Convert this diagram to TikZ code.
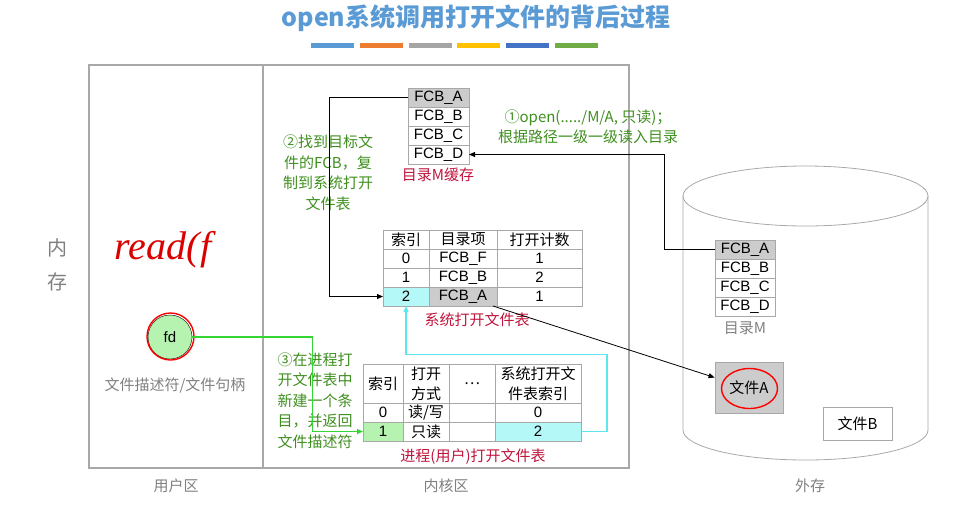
\documentclass[tikz,border=0pt]{standalone}
\usepackage{fontspec}
\setmainfont{Liberation Sans}
\newfontfamily\cjk{Noto Sans CJK SC}
\newfontfamily\hand{Liberation Serif}
\usetikzlibrary{positioning,arrows.meta}
\definecolor{titleblue}{HTML}{5B9BD5}
\definecolor{note}{HTML}{3F8F1F}
\definecolor{capred}{HTML}{C0143C}
\definecolor{framegray}{HTML}{A8A8A8}
\definecolor{cellgray}{HTML}{CCCCCC}
\definecolor{lcyan}{HTML}{B4F8F8}
\definecolor{lgreen}{HTML}{B6F2B0}
\definecolor{cyanline}{HTML}{5CE6EE}
\definecolor{greenline}{HTML}{33D633}
\definecolor{barA}{HTML}{5B9BD5}
\definecolor{barB}{HTML}{ED7D31}
\definecolor{barC}{HTML}{A5A5A5}
\definecolor{barD}{HTML}{FFC000}
\definecolor{barE}{HTML}{4472C4}
\definecolor{barF}{HTML}{70AD47}

\begin{document}
\begin{tikzpicture}[x=1pt, y=-1pt,
    cell/.style={draw=framegray, line width=0.8pt, outer sep=0pt, inner sep=0pt, minimum height=19pt, align=center, font=\fontsize{15}{20}\selectfont},
    note/.style={text=note, align=center, font=\cjk\fontsize{15}{20.5}\selectfont},
    caption/.style={text=capred, font=\cjk\fontsize{15}{18}\selectfont},
    zone/.style={text=gray, font=\cjk\fontsize{15}{18}\selectfont},
    link/.style={-{Triangle[length=6pt,width=5pt]}, line width=0.8pt}]
    \useasboundingbox (0,0) rectangle (957,504);

    % title and colour bars
    \node (title) [text=titleblue, font=\cjk\bfseries\fontsize{25}{28}\selectfont] at (476,18) {open系统调用打开文件的背后过程};
    \foreach \c [count=\i from 0] in {barA,barB,barC,barD,barE,barF}
      \fill[\c] ({311+\i*48.8},43) rectangle ++(43,5);

    % memory frame
    \draw[framegray, line width=1.2pt] (89,65) rectangle (629,468);
    \draw[framegray, line width=1.2pt] (263,65) -- (263,468);
    \node (mem) [zone, align=center, font=\cjk\fontsize{20}{34}\selectfont] at (57,265) {内\\存};
    \node (user) [zone] at (176,486) {用户区};
    \node (kernel) [zone] at (446,486) {内核区};
    \node (disk) [zone] at (810,486) {外存};

    % user area
    \node (hw) [text=red!85!black, font=\hand\itshape\fontsize{40}{40}\selectfont] at (163,250) {read(f};
    \node (fd) [circle, draw, fill=lgreen, minimum size=44pt, inner sep=0pt, font=\fontsize{15}{16}\selectfont] at (170,337) {fd};
    \draw[red, line width=1.4pt] (170.5,336.5) circle (23.5pt);
    \node (fdcap) [zone] at (175,385) {文件描述符/文件句柄};

    % directory M cache
    \node (ca) [cell, fill=cellgray, minimum width=61pt] at (438.5,97.5) {FCB\_A};
    \node (cb) [cell, minimum width=61pt, below=0pt of ca] {FCB\_B};
    \node (cc) [cell, minimum width=61pt, below=0pt of cb] {FCB\_C};
    \node (cd) [cell, minimum width=61pt, below=0pt of cc] {FCB\_D};
    \node (cachecap) [caption] at (438,175) {目录M缓存};

    % system open file table
    \node (sh1) [cell, minimum width=46pt] at (406,239.5) {\cjk 索引};
    \node (sh2) [cell, minimum width=68pt, right=0pt of sh1] {\cjk 目录项};
    \node (sh3) [cell, minimum width=85pt, right=0pt of sh2] {\cjk 打开计数};
    \node (s0a) [cell, minimum width=46pt, below=0pt of sh1] {0};
    \node (s0b) [cell, minimum width=68pt, right=0pt of s0a] {FCB\_F};
    \node (s0c) [cell, minimum width=85pt, right=0pt of s0b] {1};
    \node (s1a) [cell, minimum width=46pt, below=0pt of s0a] {1};
    \node (s1b) [cell, minimum width=68pt, right=0pt of s1a] {FCB\_B};
    \node (s1c) [cell, minimum width=85pt, right=0pt of s1b] {2};
    \node (s2a) [cell, fill=lcyan, minimum width=46pt, below=0pt of s1a] {2};
    \node (s2b) [cell, fill=cellgray, minimum width=68pt, right=0pt of s2a] {FCB\_A};
    \node (s2c) [cell, minimum width=85pt, right=0pt of s2b] {1};
    \node (syscap) [caption] at (477,320) {系统打开文件表};

    % process open file table
    \node (ph1) [cell, minimum width=40pt, minimum height=39pt] at (383,383.5) {\cjk 索引};
    \node (ph2) [cell, minimum width=46pt, minimum height=39pt, right=0pt of ph1] {\cjk 打开\\\cjk 方式};
    \node (ph3) [cell, minimum width=46pt, minimum height=39pt, right=0pt of ph2] {\cjk …};
    \node (ph4) [cell, minimum width=86pt, minimum height=39pt, right=0pt of ph3] {\cjk 系统打开文\\\cjk 件表索引};
    \node (p0a) [cell, minimum width=40pt, below=0pt of ph1] {0};
    \node (p0b) [cell, minimum width=46pt, right=0pt of p0a] {\cjk 读/写};
    \node (p0c) [cell, minimum width=46pt, right=0pt of p0b] {};
    \node (p0d) [cell, minimum width=86pt, right=0pt of p0c] {0};
    \node (p1a) [cell, fill=lgreen, minimum width=40pt, below=0pt of p0a] {1};
    \node (p1b) [cell, minimum width=46pt, right=0pt of p1a] {\cjk 只读};
    \node (p1c) [cell, minimum width=46pt, right=0pt of p1b] {};
    \node (p1d) [cell, fill=lcyan, minimum width=86pt, right=0pt of p1c] {2};
    \node (proccap) [caption] at (473,457) {进程(用户)打开文件表};

    % notes
    \node (n1) [note] at (588,127) {①open(...../M/A, 只读)；\\根据路径一级一级读入目录};
    \node (n2) [note] at (328,172.5) {②找到目标文\\件的FCB，复\\制到系统打开\\文件表};
    \node (n3) [note] at (315,400.5) {③在进程打\\开文件表中\\新建一个条\\目，并返回\\文件描述符};

    % disk
    \draw[framegray, line width=0.8pt] (683,196) -- (683,430) arc[start angle=180, end angle=360, x radius=122.5pt, y radius=30pt] -- (928,196);
    \draw[framegray, line width=0.8pt] (805.5,196) ellipse [x radius=122.5pt, y radius=30pt];
    \node (da) [cell, fill=cellgray, minimum width=60pt] at (745,249.5) {FCB\_A};
    \node (db) [cell, minimum width=60pt, below=0pt of da] {FCB\_B};
    \node (dc) [cell, minimum width=60pt, below=0pt of db] {FCB\_C};
    \node (dd) [cell, minimum width=60pt, below=0pt of dc] {FCB\_D};
    \node (dircap) [zone] at (745,328) {目录M};
    \node (fa) [draw=framegray, line width=0.8pt, fill=cellgray, minimum width=68pt, minimum height=51pt, font=\cjk\fontsize{15}{16}\selectfont] at (749,387.5) {文件A};
    \draw[red, line width=1.4pt] (749.5,388.5) ellipse [x radius=28pt, y radius=20pt];
    \node (fb) [draw=framegray, line width=0.8pt, minimum width=69pt, minimum height=33pt, font=\cjk\fontsize{15}{16}\selectfont] at (857.5,423.5) {文件B};

    % connectors
    \draw[link] (da.west) -- ++(-51,0) |- (cd.east);
    \draw[link] (ca.west) -- ++(-79,0) |- (s2a.west);
    \draw[link] ([xshift=-4pt]s2b.south east) -- ([yshift=10pt]fa.west);
    \draw[link, line width=1.2pt, color=greenline] (fd.east) -- ++(120,0) |- (p1a.west);
    \draw[link, line width=1.2pt, color=cyanline] (p1d.east) -- ++(26,0) -- ++(0,-77) -| (s2a.south);
  \end{tikzpicture}
\end{document}
